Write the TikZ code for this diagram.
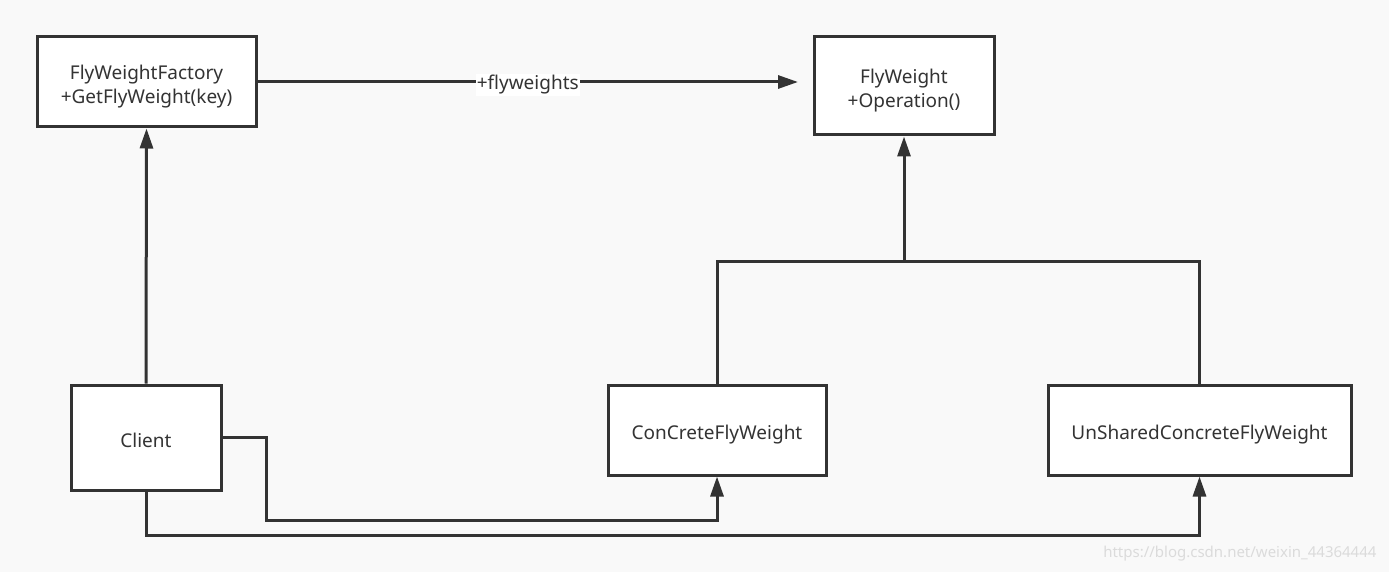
\documentclass[tikz,border=0pt]{standalone}
\usepackage{fontspec}
\setmainfont{Noto Sans}
\usetikzlibrary{arrows.meta}
\definecolor{bg}{HTML}{F9F9F9}
\definecolor{ink}{HTML}{333333}
\begin{document}
\begin{tikzpicture}[x=1pt,y=-1pt,
  box/.style={draw=ink,fill=white,line width=3pt,inner sep=0pt},
  txt/.style={text=ink,font=\fontsize{19}{24}\selectfont,align=center,inner sep=0pt,yshift=-5pt},
  conn/.style={draw=ink,line width=3pt,-{Triangle[length=20pt,width=13pt]}},
  line/.style={draw=ink,line width=3pt}]
\fill[bg] (0,0) rectangle (1389,572);
\useasboundingbox (0,0) rectangle (1389,572);
\node[box,minimum width=219pt,minimum height=90pt] (fac) at (146.5,82) {};
\node[txt] (facT) at (fac.center) {FlyWeightFactory\\+GetFlyWeight(key)};
\node[box,minimum width=180pt,minimum height=98pt] (fw) at (904,86) {};
\node[txt] (fwT) at (fw.center) {FlyWeight\\+Operation()};
\node[box,minimum width=150pt,minimum height=105pt] (cli) at (146,437.5) {};
\node[txt,yshift=2pt] (cliT) at (cli.center) {Client};
\node[box,minimum width=218pt,minimum height=90pt] (con) at (717,430) {};
\node[txt] (conT) at (con.center) {ConCreteFlyWeight};
\node[box,minimum width=303pt,minimum height=90pt] (uns) at (1199.5,430) {};
\node[txt] (unsT) at (uns.center) {UnSharedConcreteFlyWeight};
\coordinate (fwend) at (798,82);
\coordinate (join) at (904,261);
\draw[conn] (fac.east |- 0,82) -- node[fill=white,inner sep=1pt,text=ink,font=\fontsize{19}{24}\selectfont,yshift=-3pt] (lbl) {+flyweights} (fwend);
\draw[conn] (cli.north) -- (fac.south);
\draw[conn] (join) -- (fw.south);
\draw[line] (con.north) |- (join) -| (uns.north);
\draw[conn] (cli.east) -- (266,437.5) |- (717,520) -- (con.south);
\draw[conn] (cli.south) |- (1199.5,535) -- (uns.south);
\node[text=black!14,font=\fontsize{15}{17}\selectfont,anchor=east] (wm) at (1380,554) {https://blog.csdn.net/weixin\_44364444};
\end{tikzpicture}
\end{document}
